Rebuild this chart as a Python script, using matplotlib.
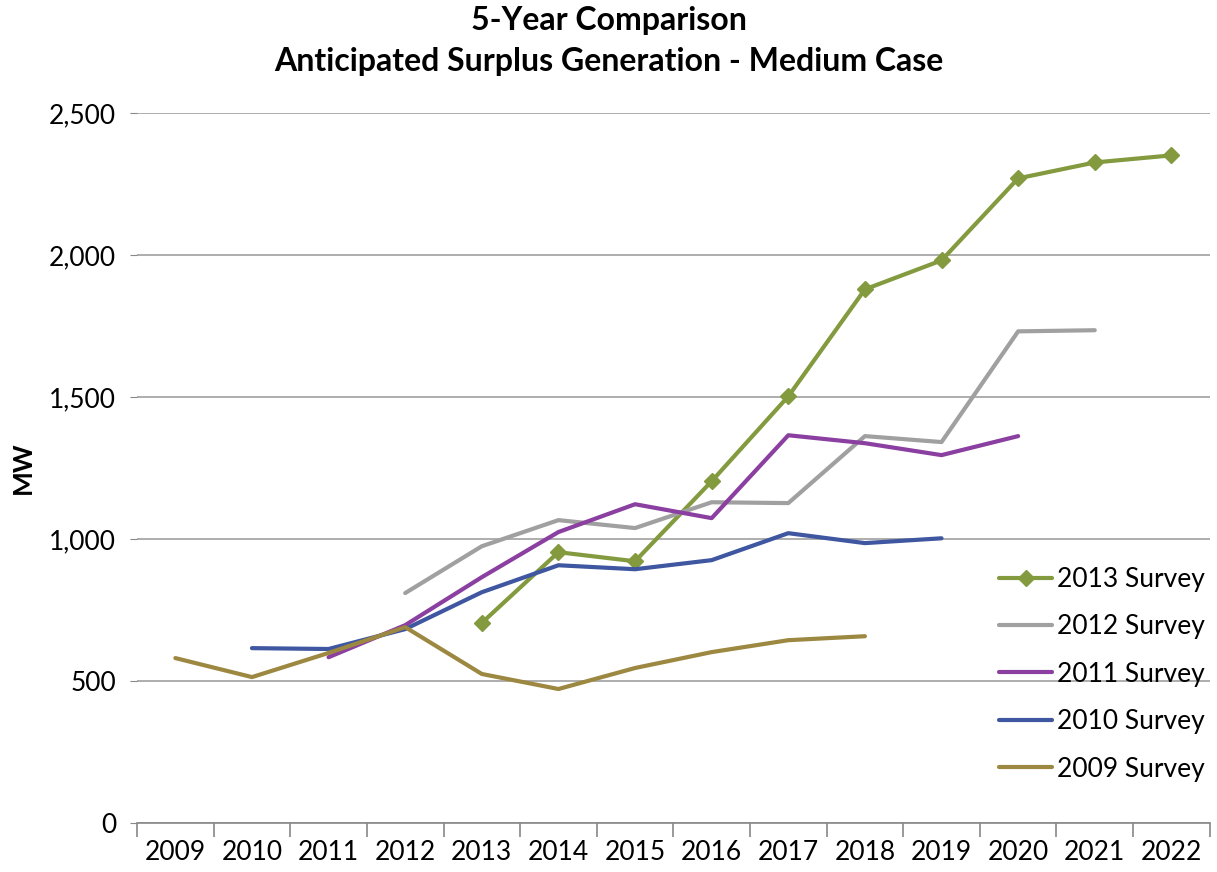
import matplotlib.pyplot as plt
import numpy as np

plt.rcParams['font.family'] = ['Lato', 'DejaVu Sans']

years = [str(y) for y in range(2009, 2023)]

# None = no value for that year
survey_2013 = [None, None, None, None, 705, 954, 922, 1204, 1503, 1880, 1982, 2271, 2327, 2352]
survey_2012 = [None, None, None, 810, 975, 1067, 1039, 1130, 1127, 1363, 1342, 1732, 1736, None]
survey_2011 = [None, None, 584, 697, 866, 1025, 1123, 1074, 1366, 1338, 1296, 1363, None, None]
survey_2010 = [None, 616, 613, 683, 813, 908, 894, 926, 1021, 986, 1003, None, None, None]
survey_2009 = [581, 514, 599, 690, 525, 472, 546, 602, 644, 658, None, None, None, None]

series = [
    ("2013 Survey", survey_2013, "#839A3F", "D"),
    ("2012 Survey", survey_2012, "#A0A0A0", None),
    ("2011 Survey", survey_2011, "#8B3FA0", None),
    ("2010 Survey", survey_2010, "#3F56A0", None),
    ("2009 Survey", survey_2009, "#9C8840", None),
]


def to_arr(vals):
    return np.array([np.nan if v is None else v for v in vals], dtype=float)


fig = plt.figure(figsize=(12.17, 8.72), dpi=100)
ax = fig.add_axes([0.1126, 0.0562, 0.8814, 0.8138])

x = np.arange(len(years))
for label, vals, color, marker in series:
    ax.plot(x, to_arr(vals), color=color, linewidth=3, label=label,
            marker=marker, markersize=8, solid_capstyle="round")

ax.set_xlim(-0.5, len(years) - 0.5)
ax.set_ylim(0, 2500)
ax.set_yticks(range(0, 2501, 500))
ax.set_yticklabels([f"{v:,}" for v in range(0, 2501, 500)], fontsize=19)
ax.set_xticks(x)
ax.set_xticklabels(years, fontsize=19)
ax.set_xticks(np.arange(-0.5, len(years), 1), minor=True)
ax.tick_params(axis="x", which="major", length=0, pad=12)
ax.tick_params(axis="x", which="minor", length=10, color="#888888", width=1.2)
ax.tick_params(axis="y", length=5, color="#888888", pad=10)

ax.grid(axis="y", color="#A0A0A0", linewidth=1.2)
ax.set_axisbelow(True)
for side in ["top", "right", "left"]:
    ax.spines[side].set_visible(False)
ax.spines["bottom"].set_color("#888888")
ax.spines["bottom"].set_linewidth(1.2)

ax.set_ylabel("MW", fontsize=19, fontweight="bold", labelpad=10)
fig.suptitle("5-Year Comparison\nAnticipated Surplus Generation - Medium Case",
             fontsize=23, fontweight="bold", y=0.993, linespacing=1.5)

ax.legend(loc="lower right", bbox_to_anchor=(1.018, 0.025), frameon=False,
          fontsize=19, handlelength=2.0, handletextpad=0.2,
          labelspacing=0.85)

fig.savefig("out.png", dpi=100)
